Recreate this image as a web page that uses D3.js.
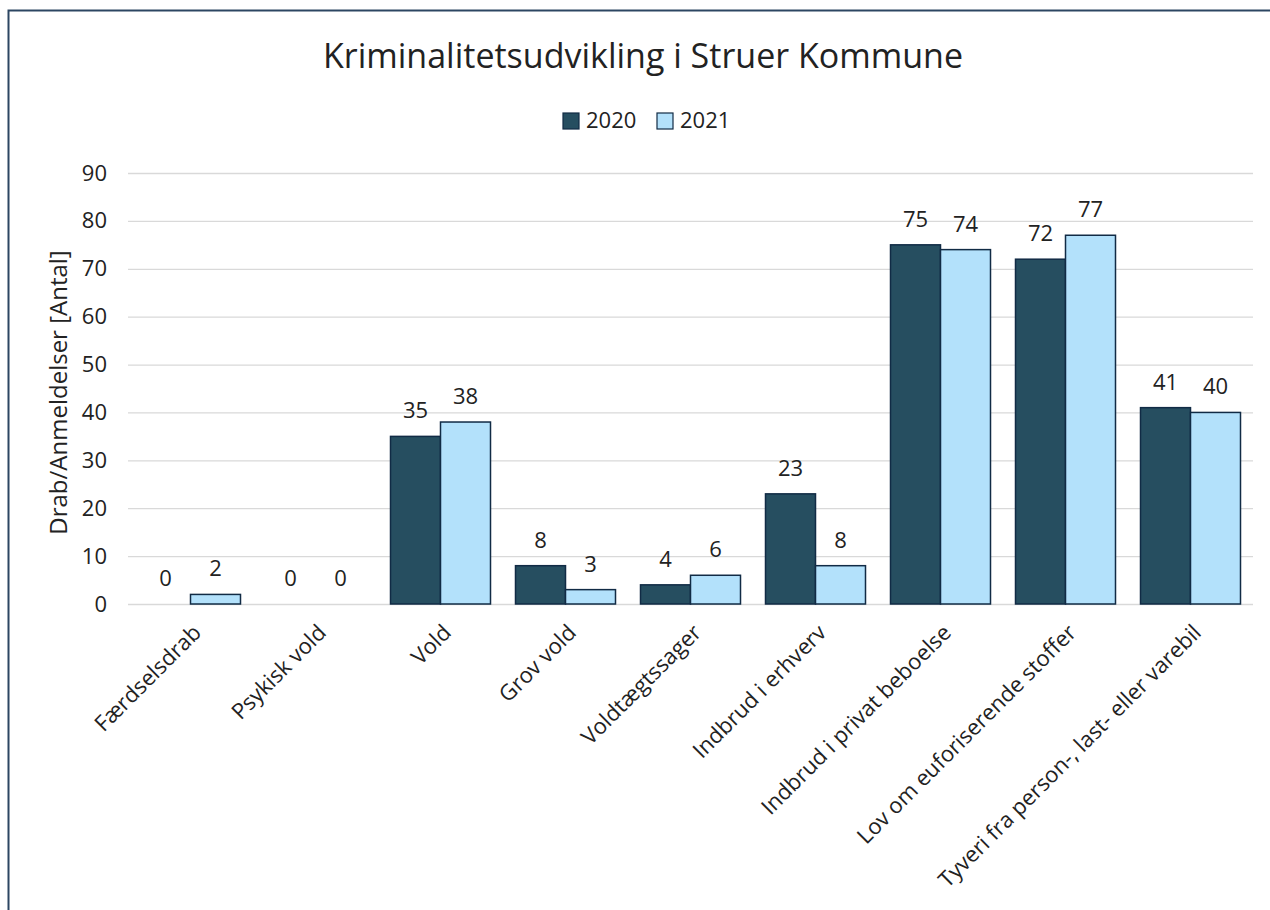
<!DOCTYPE html>
<html>
<head>
<meta charset="utf-8">
<script src="https://cdn.jsdelivr.net/npm/d3@7"></script>
<style>
  body { margin: 0; background: #ffffff; }
  text { font-family: "Open Sans", sans-serif; fill: #222; }
</style>
</head>
<body>
<div id="chart"></div>
<script>
// kriminalitet i Struer Kommune, 2020 vs 2021

const categories = ["Færdselsdrab", "Psykisk vold", "Vold", "Grov vold", "Voldtægtssager",
    "Indbrud i erhverv", "Indbrud i privat beboelse", "Lov om euforiserende stoffer",
    "Tyveri fra person-, last- eller varebil"];
const years = ["2020", "2021"];
const values2020 = [0, 0, 35, 8, 4, 23, 75, 72, 41];
const values2021 = [2, 0, 38, 3, 6, 8, 74, 77, 40];
const yTicks = [0, 10, 20, 30, 40, 50, 60, 70, 80, 90];

const colors = {"2020": "#264e60", "2021": "#b3e1fb"};

const width = 1270, height = 910;
const margin = {top: 173, right: 17, bottom: 306, left: 128};

const svg = d3.select("#chart").append("svg")
    .attr("width", width)
    .attr("height", height);

// outer frame
svg.append("rect")
    .attr("x", 8.5).attr("y", 10.5)
    .attr("width", width + 10).attr("height", height + 10)
    .attr("fill", "none")
    .attr("stroke", "#2c4662")
    .attr("stroke-width", 2);

const rows = categories.map((c, i) => ({cat: c, "2020": values2020[i], "2021": values2021[i]}));

const x0 = d3.scaleBand()
    .domain(categories)
    .range([margin.left, width - margin.right])
    .paddingInner(0.2)
    .paddingOuter(0.1);

const x1 = d3.scaleBand()
    .domain(years)
    .range([0, x0.bandwidth()]);

const y = d3.scaleLinear()
    .domain([0, 90])
    .range([height - margin.bottom, margin.top]);

// gridlines + y labels
const yAxis = d3.axisLeft(y)
    .tickValues(yTicks)
    .tickSize(-(width - margin.left - margin.right))
    .tickPadding(21);

const gy = svg.append("g")
    .attr("transform", `translate(${margin.left},0)`)
    .call(yAxis);
gy.select(".domain").remove();
gy.selectAll(".tick line").attr("stroke", "#d9d9d9").attr("stroke-width", 1.3);
gy.selectAll(".tick text")
    .style("font-size", "22px")
    .attr("fill", "#333");

// bars
const groups = svg.append("g").selectAll("g")
    .data(rows)
    .join("g")
    .attr("transform", d => `translate(${x0(d.cat)},0)`);

groups.selectAll("rect")
    .data(d => years.map(k => ({key: k, value: d[k]})))
    .join("rect")
    .attr("x", d => x1(d.key))
    .attr("y", d => y(d.value))
    .attr("width", x1.bandwidth())
    .attr("height", d => y(0) - y(d.value))
    .attr("fill", d => colors[d.key])
    .attr("stroke", "#112b45")
    .attr("stroke-width", d => d.value > 0 ? 1.5 : 0);

// value labels
groups.selectAll("text.val")
    .data(d => years.map(k => ({key: k, value: d[k]})))
    .join("text")
    .attr("class", "val")
    .attr("x", d => x1(d.key) + x1.bandwidth() / 2)
    .attr("y", d => y(d.value) - 18)
    .attr("text-anchor", "middle")
    .style("font-size", "22px")
    .text(d => d.value);

// x axis labels, rotated
svg.append("g").selectAll("text")
    .data(categories)
    .join("text")
    .attr("transform", d => `translate(${x0(d) + x0.bandwidth() / 2 + 12},${height - margin.bottom + 30}) rotate(-45)`)
    .attr("text-anchor", "end")
    .style("font-size", "22px")
    .text(d => d);

// y axis title
svg.append("text")
    .attr("transform", `translate(67,${(margin.top + height - margin.bottom) / 2 + 4}) rotate(-90)`)
    .attr("text-anchor", "middle")
    .style("font-size", "24px")
    .text("Drab/Anmeldelser [Antal]");

// title
svg.append("text")
    .attr("x", 643)
    .attr("y", 68)
    .attr("text-anchor", "middle")
    .style("font-size", "34px")
    .text("Kriminalitetsudvikling i Struer Kommune");

// legend
const legend = svg.append("g")
    .attr("transform", "translate(563,113)");
const li = legend.selectAll("g")
    .data(years)
    .join("g")
    .attr("transform", (d, i) => `translate(${i * 94},0)`);
li.append("rect")
    .attr("width", 16).attr("height", 16)
    .attr("fill", d => colors[d])
    .attr("stroke", "#112b45")
    .attr("stroke-width", 1.2);
li.append("text")
    .attr("x", 23).attr("y", 15)
    .style("font-size", "22px")
    .text(d => d);
</script>
</body>
</html>
